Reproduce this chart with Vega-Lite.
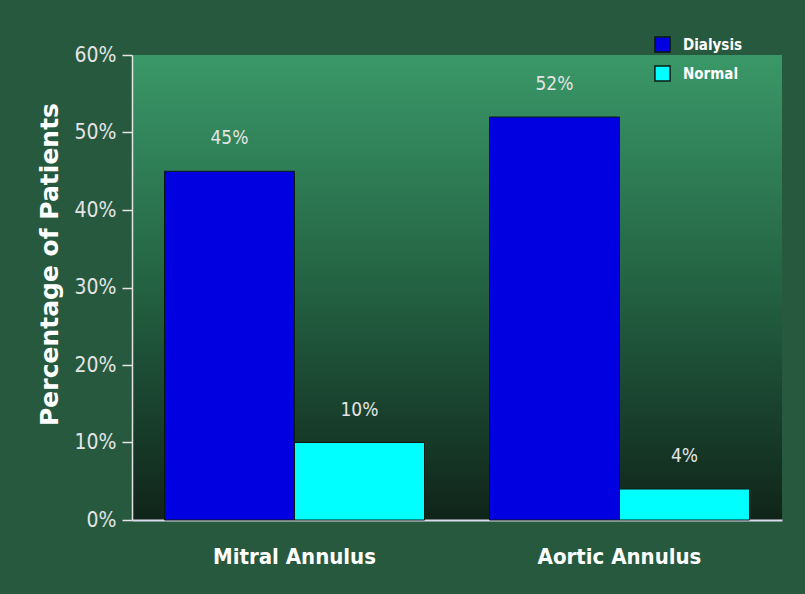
{
  "$schema": "https://vega.github.io/schema/vega-lite/v6.json",
  "width": 650,
  "height": 465,
  "autosize": {"type": "none"},
  "padding": {"left": 132, "top": 55, "right": 23, "bottom": 74},
  "background": "#27593f",
  "config": {
    "view": {
      "stroke": null,
      "fill": {"gradient": "linear", "x1": 0, "y1": 0, "x2": 0, "y2": 1,
        "stops": [{"offset": 0, "color": "#3a9868"}, {"offset": 0.5, "color": "#236242"}, {"offset": 1, "color": "#10241a"}]}
    },
    "font": "DejaVu Sans Condensed, sans-serif"
  },
  "data": {
    "values": [
      {"site": "Mitral Annulus", "group": "Dialysis", "value": 0.45},
      {"site": "Mitral Annulus", "group": "Normal", "value": 0.10},
      {"site": "Aortic Annulus", "group": "Dialysis", "value": 0.52},
      {"site": "Aortic Annulus", "group": "Normal", "value": 0.04}
    ]
  },
  "encoding": {
    "x": {
      "field": "site", "type": "nominal", "sort": ["Mitral Annulus", "Aortic Annulus"],
      "scale": {"paddingInner": 0.2, "paddingOuter": 0.1},
      "axis": {"title": null, "labelAngle": 0, "labelFontSize": 22, "labelFontWeight": "bold", "labelColor": "#ffffff",
        "labelPadding": 26, "ticks": false, "domainColor": "#dcdcec", "domainWidth": 2}
    },
    "xOffset": {"field": "group", "type": "nominal", "sort": ["Dialysis", "Normal"], "scale": {"paddingInner": 0}},
    "y": {
      "field": "value", "type": "quantitative",
      "scale": {"domain": [0, 0.6]},
      "axis": {"format": ".0%", "values": [0, 0.1, 0.2, 0.3, 0.4, 0.5, 0.6], "grid": false,
        "title": "Percentage of Patients", "titleFontSize": 25, "titleFontWeight": "bold", "titleColor": "#ffffff",
        "titleFont": "DejaVu Sans, sans-serif", "titlePadding": 12, "titleY": 209,
        "labelFontSize": 21, "labelColor": "#e4e4e4", "labelPadding": 6,
        "tickColor": "#e4e4e4", "tickSize": 10, "tickWidth": 1.5,
        "domainColor": "#e4e4e4", "domainWidth": 1.5}
    }
  },
  "layer": [
    {
      "mark": {"type": "bar", "stroke": "#0a1a12", "strokeWidth": 1},
      "encoding": {
        "color": {
          "field": "group", "type": "nominal",
          "scale": {"domain": ["Dialysis", "Normal"], "range": ["#0000e0", "#00ffff"]},
          "legend": {"title": null, "orient": "none", "legendX": 522, "legendY": -19,
            "symbolType": "square", "symbolSize": 230, "symbolStrokeColor": "#0a1a12", "symbolStrokeWidth": 1.5,
            "labelColor": "#ffffff", "labelFontSize": 15, "labelFontWeight": "bold", "rowPadding": 6, "labelOffset": 12}
        }
      }
    },
    {
      "mark": {"type": "text", "baseline": "bottom", "dy": -23, "fontSize": 19, "color": "#e4e4e4"},
      "encoding": {"text": {"field": "value", "type": "quantitative", "format": ".0%"}}
    }
  ]
}
